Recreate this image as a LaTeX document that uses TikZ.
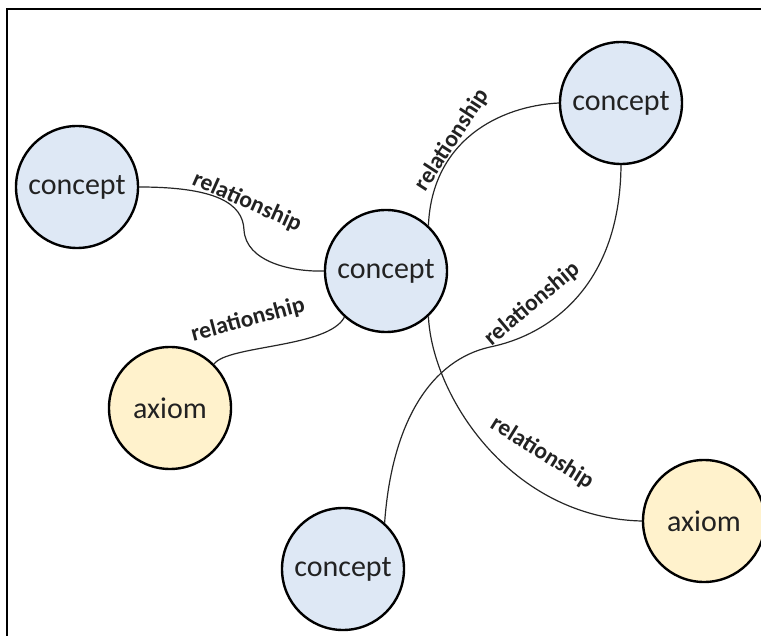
\documentclass[tikz,border=0pt]{standalone}
\usepackage{fontspec}
\setmainfont{Carlito}
\definecolor{conceptblue}{HTML}{DEE8F5}
\definecolor{axiomyellow}{HTML}{FFF2CC}
\definecolor{inkgray}{HTML}{222222}
\begin{document}
\begin{tikzpicture}[x=1pt,y=-1pt,
  concept/.style={circle,draw=black,line width=2.4pt,fill=conceptblue,
    minimum size=122pt,inner sep=0pt,text=inkgray,
    font=\fontsize{30}{36}\selectfont},
  axiomnode/.style={concept,fill=axiomyellow},
  link/.style={draw=black!85,line width=1.2pt},
  rel/.style={inner sep=0pt,text=inkgray,
    font=\fontsize{23.5}{28}\selectfont\bfseries}]
  \useasboundingbox (0,0) rectangle (761,636);

  % outer frame, running off the right and bottom edges
  \begin{scope}
    \clip (0,0) rectangle (761,636);
    \draw[line width=2pt] (7,9) rectangle (800,700);
  \end{scope}

  % nodes
  \node[concept] (c1) at (77,187) {concept};
  \node[concept] (c0) at (386,271) {concept};
  \node[concept] (c2) at (621,103) {concept};
  \node[concept] (c3) at (343,569) {concept};
  \node[axiomnode] (a1) at (170,408) {axiom};
  \node[axiomnode] (a2) at (704,521) {axiom};

  % connectors
  \draw[link] (c1.east) .. controls (215,187) and (243,203) .. (244,230)
              .. controls (246,262) and (292,272) .. (c0.west);
  \draw[link] (a1.45) .. controls (228,345) and (328,348) .. (c0.-132);
  \draw[link] (c0.47) .. controls (432,140) and (500,106) .. (c2.west);
  \draw[link] (c2.-90) .. controls (620,290) and (545,336) .. (490,347)
              .. controls (432,360) and (392,420) .. (c3.48);
  \draw[link] (c0.-47) .. controls (432,395) and (510,518) .. (a2.west);

  % connector labels
  \node[rel,rotate=-24] (r1) at (247,202) {relationship};
  \node[rel,rotate=15] (r2) at (248,320) {relationship};
  \node[rel,rotate=57] (r3) at (452,140) {relationship};
  \node[rel,rotate=40] (r4) at (532,304) {relationship};
  \node[rel,rotate=-32] (r5) at (542,453) {relationship};
\end{tikzpicture}
\end{document}
